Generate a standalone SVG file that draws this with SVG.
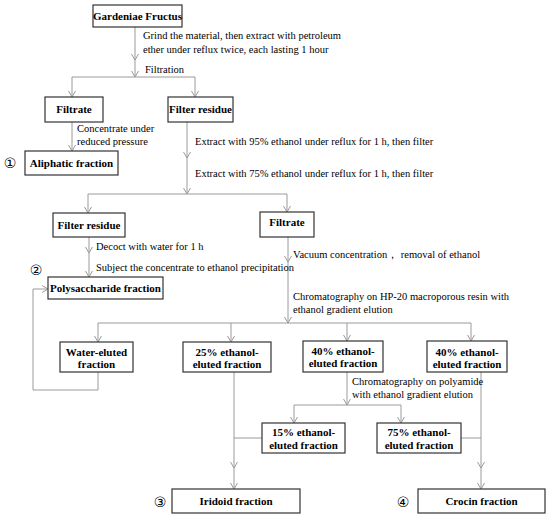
<svg xmlns="http://www.w3.org/2000/svg" width="550" height="520" viewBox="0 0 550 520">
<style>
.box{fill:#fff;stroke:#333;stroke-width:1.2}
.bt{font-family:"Liberation Serif","Times New Roman",serif;font-weight:bold;font-size:11px;fill:#000;text-anchor:middle}
.t{font-family:"Liberation Serif","Times New Roman",serif;font-size:10.5px;fill:#000}
.num{font-family:"DejaVu Sans","Noto Sans",sans-serif;font-size:14px;fill:#000;text-anchor:middle}
.c{fill:none;stroke:#9a9a9a;stroke-width:1}
.a{marker-end:url(#ar)}
</style>
<defs>
<marker id="ar" markerUnits="userSpaceOnUse" viewBox="0 0 8 8" markerWidth="8" markerHeight="8" refX="7" refY="4" orient="auto">
<path d="M1,0.5 L7,4 L1,7.5" fill="none" stroke="#9a9a9a" stroke-width="1"/>
</marker>
</defs>
<rect width="550" height="520" fill="#fff"/>
<g id="connectors">
<path class="c a" d="M135,27 V60"/>
<path class="c a" d="M135,60 V77"/>
<path class="c" d="M72,77 H195"/>
<path class="c a" d="M72,77 V97"/>
<path class="c a" d="M195,77 V97"/>
<path class="c a" d="M72,122 V151"/>
<path class="c a" d="M187,122 V158"/>
<path class="c a" d="M187,158 V194"/>
<path class="c" d="M88,194 H287"/>
<path class="c a" d="M88,194 V213"/>
<path class="c a" d="M287,194 V212"/>
<path class="c a" d="M89,237 V253"/>
<path class="c a" d="M89,253 V277"/>
<path class="c a" d="M288,237 V262"/>
<path class="c a" d="M288,262 V323"/>
<path class="c" d="M98,323 H471"/>
<path class="c a" d="M98,323 V342"/>
<path class="c a" d="M231,323 V342"/>
<path class="c a" d="M347,323 V341"/>
<path class="c a" d="M471,323 V341"/>
<path class="c a" d="M98,372 V390 H33 V289 H48"/>
<path class="c a" d="M347,372 V405"/>
<path class="c" d="M294,405 H401"/>
<path class="c a" d="M294,405 V423"/>
<path class="c a" d="M401,405 V423"/>
<path class="c a" d="M234,372 V468"/>
<path class="c a" d="M234,468 V489"/>
<path class="c" d="M262,438 H234"/>
<path class="c a" d="M481,372 V468"/>
<path class="c a" d="M481,468 V489"/>
<path class="c" d="M461,438 H481"/>
</g>
<g id="gardeniae"><rect class="box" x="93" y="5" width="89" height="22"/><text class="bt" x="137.5" y="20">Gardeniae Fructus</text></g>
<g id="step1-label"><text class="t" x="143" y="39">Grind the material, then extract with petroleum</text><text class="t" x="143" y="53">ether under reflux twice, each lasting 1 hour</text><text class="t" x="145" y="73">Filtration</text></g>
<g id="filtrate1"><rect class="box" x="45" y="97" width="58" height="25"/><text class="bt" x="74" y="113">Filtrate</text></g>
<g id="residue1"><rect class="box" x="168" y="97" width="65" height="25"/><text class="bt" x="200.5" y="113">Filter residue</text></g>
<g id="conc-label"><text class="t" x="77" y="132">Concentrate under</text><text class="t" x="77" y="145">reduced pressure</text></g>
<g id="aliphatic"><text class="num" x="10" y="168">①</text><rect class="box" x="25" y="151" width="93" height="24"/><text class="bt" x="71.5" y="167">Aliphatic fraction</text></g>
<g id="extract-labels"><text class="t" x="195" y="145">Extract with 95% ethanol under reflux for 1 h, then filter</text><text class="t" x="195" y="177">Extract with 75% ethanol under reflux for 1 h, then filter</text></g>
<g id="residue2"><rect class="box" x="53" y="213" width="72" height="24"/><text class="bt" x="89" y="229">Filter residue</text></g>
<g id="filtrate2"><rect class="box" x="260" y="212" width="54" height="25"/><text class="bt" x="287" y="226">Filtrate</text></g>
<g id="decoct-labels"><text class="t" x="96" y="250">Decoct with water for 1 h</text><text class="t" x="96" y="271">Subject the concentrate to ethanol precipitation</text></g>
<g id="polysaccharide"><text class="num" x="36" y="275">②</text><rect class="box" x="48" y="277" width="115" height="22"/><text class="bt" x="105.5" y="292">Polysaccharide fraction</text></g>
<g id="vacuum-labels"><text class="t" x="293" y="258">Vacuum concentration， removal of ethanol</text><text class="t" x="293" y="300">Chromatography on HP-20 macroporous resin with</text><text class="t" x="293" y="313">ethanol gradient elution</text></g>
<g id="water"><rect class="box" x="60" y="342" width="73" height="30"/><text class="bt" x="96.5" y="356">Water-eluted</text><text class="bt" x="96.5" y="368">fraction</text></g>
<g id="e25"><rect class="box" x="183" y="342" width="88" height="30"/><text class="bt" x="227" y="356">25% ethanol-</text><text class="bt" x="227" y="368">eluted fraction</text></g>
<g id="e40a"><rect class="box" x="303" y="341" width="80" height="31"/><text class="bt" x="343" y="355">40% ethanol-</text><text class="bt" x="343" y="367">eluted fraction</text></g>
<g id="e40b"><rect class="box" x="427" y="341" width="80" height="31"/><text class="bt" x="467" y="356">40% ethanol-</text><text class="bt" x="467" y="368">eluted fraction</text></g>
<g id="polyamide-labels"><text class="t" x="352" y="385">Chromatography on polyamide</text><text class="t" x="352" y="398">with ethanol gradient elution</text></g>
<g id="e15"><rect class="box" x="262" y="423" width="83" height="30"/><text class="bt" x="303.5" y="436">15% ethanol-</text><text class="bt" x="303.5" y="449">eluted fraction</text></g>
<g id="e75"><rect class="box" x="377" y="423" width="84" height="30"/><text class="bt" x="419" y="436">75% ethanol-</text><text class="bt" x="419" y="449">eluted fraction</text></g>
<g id="iridoid"><text class="num" x="160" y="507">③</text><rect class="box" x="172" y="489" width="128" height="24"/><text class="bt" x="236" y="505">Iridoid fraction</text></g>
<g id="crocin"><text class="num" x="403" y="507">④</text><rect class="box" x="418" y="489" width="127" height="24"/><text class="bt" x="481.5" y="505">Crocin fraction</text></g>
</svg>
